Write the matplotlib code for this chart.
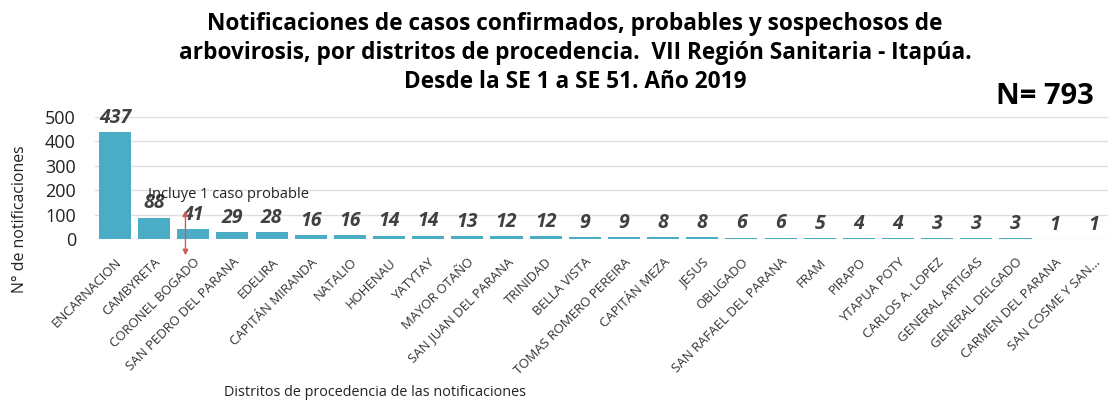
import matplotlib.pyplot as plt

plt.rcParams['font.family'] = ['Open Sans', 'DejaVu Sans']

distritos = ["ENCARNACION", "CAMBYRETA", "CORONEL BOGADO", "SAN PEDRO DEL PARANA",
             "EDELIRA", "CAPITÁN MIRANDA", "NATALIO", "HOHENAU", "YATYTAY",
             "MAYOR OTAÑO", "SAN JUAN DEL PARANA", "TRINIDAD", "BELLA VISTA",
             "TOMAS ROMERO PEREIRA", "CAPITÁN MEZA", "JESUS", "OBLIGADO",
             "SAN RAFAEL DEL PARANA", "FRAM", "PIRAPO", "YTAPUA POTY",
             "CARLOS A. LOPEZ", "GENERAL ARTIGAS", "GENERAL DELGADO",
             "CARMEN DEL PARANA", "SAN COSME Y SAN..."]
notificaciones = [437, 88, 41, 29, 28, 16, 16, 14, 14, 13, 12, 12, 9, 9, 8, 8,
                  6, 6, 5, 4, 4, 3, 3, 3, 1, 1]

W, H = 1108, 403
fig = plt.figure(figsize=(W / 100, H / 100), dpi=100)
ax = fig.add_axes([95.4 / W, 1 - 239 / H, 1018 / W, 122 / H])

x = range(len(distritos))
bars = ax.bar(x, notificaciones, width=0.82, color="#4bacc6", zorder=2)
ax.set_xlim(-0.5, len(distritos) - 0.5)
ax.set_ylim(0, 500)
ax.set_yticks(range(0, 501, 100))
ax.grid(axis="y", color="#dedede", linewidth=1, zorder=0)
for s in ax.spines.values():
    s.set_visible(False)
ax.tick_params(axis="both", length=0)
ax.tick_params(axis="y", labelsize=13, pad=14, labelcolor="#222222")

ax.set_xticks(list(x))
ax.set_xticklabels(distritos, rotation=45, ha="right", rotation_mode="anchor",
                   fontsize=9.5, color="#333333")
ax.tick_params(axis="x", pad=12)

for b, v in zip(bars, notificaciones):
    ax.annotate(str(v), (b.get_x() + b.get_width() / 2, v), xytext=(0, 3),
                textcoords="offset points", ha="center", va="bottom",
                fontsize=14, fontweight="bold", fontstyle="italic", color="#404040")

fig.text(20 / W, 1 - 219 / H, "N° de notificaciones", rotation=90,
         ha="center", va="center", fontsize=11.4, color="#222222")
fig.text(375 / W, 1 - 393 / H, "Distritos de procedencia de las notificaciones",
         ha="center", va="center", fontsize=10.4, color="#222222")

fig.text(575 / W, 1 - 53 / H,
         "Notificaciones de casos confirmados, probables y sospechosos de\n"
         "arbovirosis, por distritos de procedencia.  VII Región Sanitaria - Itapúa.\n"
         "Desde la SE 1 a SE 51. Año 2019",
         ha="center", va="center", fontsize=16.3, fontweight="bold",
         linespacing=1.25)
fig.text(1045 / W, 1 - 97 / H, "N= 793", ha="center", va="center",
         fontsize=21, fontweight="bold")

fig.text(228 / W, 1 - 195 / H, "Incluye 1 caso probable", ha="center",
         va="center", fontsize=10.5, color="#222222")
ax.annotate("", xy=(1.8, 128), xytext=(1.8, -78),
            arrowprops=dict(arrowstyle="<|-|>", color="#d05a5a", lw=1,
                            mutation_scale=8),
            annotation_clip=False)

fig.savefig("out.png", dpi=100)
